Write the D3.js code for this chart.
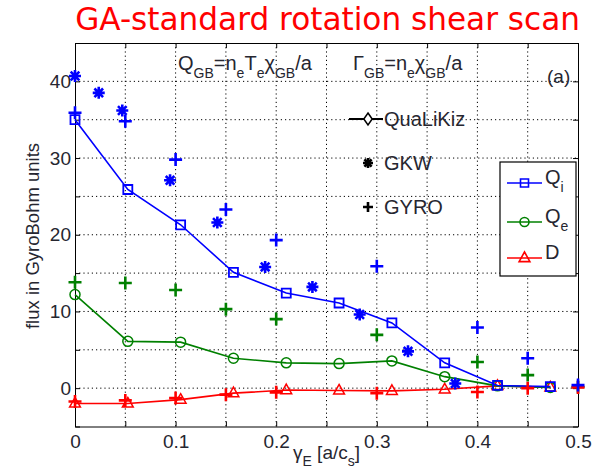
<!DOCTYPE html>
<html lang="en">
<head>
<meta charset="UTF-8">
<title>GA-standard rotation shear scan</title>
<script src="https://d3js.org/d3.v7.min.js"></script>
<style>
  body { margin: 0; background: #fff; }
  svg { display: block; font-family: 'Liberation Sans', Arial, sans-serif; }
  .grid line { stroke: #000; stroke-width: 1; stroke-dasharray: 1.2 3; }
  .axis path { stroke: #000; }
  .axis line { stroke: #000; }
  .axis text { fill: #262630; font-size: 19px; font-family: 'Liberation Sans', Arial, sans-serif; }
</style>
</head>
<body>
<svg id="chart" width="605" height="474"></svg>
<script>
  // QuaLiKiz (lines + markers)
  const qlkX  = [0, 0.0525, 0.105, 0.1575, 0.21, 0.2625, 0.315, 0.3675, 0.42, 0.4725];
  const qlkQi = [35.0, 25.9, 21.3, 15.1, 12.4, 11.1, 8.5, 3.3, 0.35, 0.2];
  const qlkQe = [12.2, 6.1, 6.0, 3.9, 3.3, 3.2, 3.55, 1.5, 0.3, 0.1];
  const qlkD  = [-2.0, -2.0, -1.5, -0.65, -0.25, -0.3, -0.35, -0.15, 0.3, 0.1];

  // GKW (asterisks, ion heat flux only)
  const gkwX  = [0, 0.0236, 0.047, 0.0945, 0.1415, 0.189, 0.236, 0.283, 0.331, 0.378];
  const gkwQi = [40.7, 38.5, 36.2, 27.1, 21.6, 15.8, 13.2, 9.6, 4.8, 0.6];

  // GYRO (plus signs)
  const gyroX  = [0, 0.05, 0.1, 0.15, 0.2, 0.3, 0.4, 0.45, 0.5];
  const gyroQi = [35.9, 34.8, 29.8, 23.3, 19.3, 15.9, 7.9, 3.9, 0.4];
  const gyroQe = [13.8, 13.7, 12.8, 10.3, 9.0, 6.95, 3.4, 1.7, 0.15];
  const gyroD  = [-1.75, -1.6, -1.3, -0.85, -0.55, -0.65, -0.5, 0, 0.1];

  const xTicks = [0, 0.05, 0.1, 0.15, 0.2, 0.25, 0.3, 0.35, 0.4, 0.45, 0.5];
  const yTicks = [-5, 0, 5, 10, 15, 20, 25, 30, 35, 40, 45];
  const xLabeled = [0, 0.1, 0.2, 0.3, 0.4, 0.5];
  const yLabeled = [0, 10, 20, 30, 40];

  const blue = "#0000ff", green = "#008000", red = "#ff0000";

  const svg = d3.select("#chart");
  const x = d3.scaleLinear().domain([0, 0.5]).range([75, 578]);
  const y = d3.scaleLinear().domain([-5, 45]).range([426.5, 43]);

  // title
  const title = svg.append("text")
    .attr("x", 580).attr("y", 30)
    .attr("text-anchor", "end")
    .attr("fill", red)
    .style("font-family", "'DejaVu Sans', Verdana, sans-serif")
    .style("font-size", "30px")
    .text("GA-standard rotation shear scan");
  let tw = title.node().getComputedTextLength();
  title.style("font-size", (30 * 505 / tw) + "px");

  // grid
  const grid = svg.append("g").attr("class", "grid");
  grid.selectAll(".gx").data(xTicks.slice(1, -1)).enter().append("line")
    .attr("x1", d => x(d)).attr("x2", d => x(d))
    .attr("y1", y(45)).attr("y2", y(-5));
  grid.selectAll(".gy").data(yTicks.slice(1, -1)).enter().append("line")
    .attr("y1", d => y(d)).attr("y2", d => y(d))
    .attr("x1", x(0)).attr("x2", x(0.5));

  // axes
  const fx = d => xLabeled.some(v => Math.abs(v - d) < 1e-9) ? d3.format("")(+d.toFixed(2)) : "";
  const fy = d => yLabeled.includes(d) ? d : "";
  svg.append("g").attr("class", "axis").attr("transform", `translate(0,${y(-5)})`)
    .call(d3.axisBottom(x).tickValues(xTicks).tickFormat(fx).tickSizeInner(-5).tickSizeOuter(0).tickPadding(8));
  svg.append("g").attr("class", "axis").attr("transform", `translate(0,${y(45)})`)
    .call(d3.axisTop(x).tickValues(xTicks).tickFormat("").tickSizeInner(-5).tickSizeOuter(0));
  svg.append("g").attr("class", "axis").attr("transform", `translate(${x(0)},0)`)
    .call(d3.axisLeft(y).tickValues(yTicks).tickFormat(fy).tickSizeInner(-5).tickSizeOuter(0).tickPadding(4));
  svg.append("g").attr("class", "axis").attr("transform", `translate(${x(0.5)},0)`)
    .call(d3.axisRight(y).tickValues(yTicks).tickFormat("").tickSizeInner(-5).tickSizeOuter(0));

  // axis labels
  svg.append("text")
    .attr("transform", "translate(39,236) rotate(-90)")
    .attr("text-anchor", "middle")
    .attr("fill", "#262630")
    .style("font-size", "18.5px")
    .text("flux in GyroBohm units");

  function richText(px, py, parts, size, subSize, anchor) {
    const t = svg.append("text").attr("x", px).attr("y", py)
      .attr("fill", "#262630").style("font-size", size + "px")
      .attr("text-anchor", anchor || "start");
    let low = false;
    parts.forEach(p => {
      const sp = t.append("tspan").text(p[0]);
      if (p[1] && !low) { sp.attr("dy", size * 0.38).style("font-size", subSize + "px"); low = true; }
      else if (!p[1] && low) { sp.attr("dy", -size * 0.38); low = false; }
      else if (p[1]) sp.style("font-size", subSize + "px");
    });
    return t;
  }

  richText(326.5, 459, [["\u03B3"], ["E", 1], [" [a/c"], ["s", 1], ["]"]], 19, 14, "middle");

  // annotations
  richText(178, 70, [["Q"], ["GB", 1], ["=n"], ["e", 1], ["T"], ["e", 1], ["\u03C7"], ["GB", 1], ["/a"]], 20, 14);
  richText(353, 70, [["\u0393"], ["GB", 1], ["=n"], ["e", 1], ["\u03C7"], ["GB", 1], ["/a"]], 20, 14);
  richText(547, 83, [["(a)"]], 19, 14);

  // marker shapes
  const shapes = {
    square: r => `M${-r},${-r}H${r}V${r}H${-r}Z`,
    circle: r => `M${r},0A${r},${r} 0 1 1 ${-r},0A${r},${r} 0 1 1 ${r},0Z`,
    triangle: r => `M0,${-r}L${r * 0.9},${r * 0.6}L${-r * 0.9},${r * 0.6}Z`,
    plus: r => `M${-r},0H${r}M0,${-r}V${r}`,
    star: r => { const k = r * 0.72; return `M${-r},0H${r}M0,${-r}V${r}M${-k},${-k}L${k},${k}M${-k},${k}L${k},${-k}`; },
    diamond: r => `M0,${-r}L${r * 0.7},0L0,${r}L${-r * 0.7},0Z`
  };

  const line = d3.line().x(d => x(d[0])).y(d => y(d[1]));
  const plot = svg.append("g");

  function series(xs, ys, color, shape, r, sw, withLine) {
    const pts = xs.map((v, i) => [v, ys[i]]);
    if (withLine) {
      plot.append("path").datum(pts).attr("d", line)
        .attr("fill", "none").attr("stroke", color).attr("stroke-width", 1.6);
    }
    plot.selectAll(null).data(pts).enter().append("path")
      .attr("transform", d => `translate(${x(d[0])},${y(d[1])})`)
      .attr("d", shapes[shape](r))
      .attr("fill", "none").attr("stroke", color).attr("stroke-width", sw);
  }

  series(qlkX, qlkD, red, "triangle", 6, 1.5, true);
  series(qlkX, qlkQe, green, "circle", 5, 1.5, true);
  series(qlkX, qlkQi, blue, "square", 4.5, 1.8, true);
  series(gkwX, gkwQi, blue, "star", 6, 2.6, false);
  series(gyroX, gyroQe, green, "plus", 6.5, 2.6, false);
  series(gyroX, gyroD, red, "plus", 6.5, 2.6, false);
  series(gyroX, gyroQi, blue, "plus", 6.5, 2.6, false);

  // code legend (no box)
  const codes = [
    { name: "QuaLiKiz", shape: "diamond", line: true, yy: 119 },
    { name: "GKW", shape: "star", line: false, yy: 163 },
    { name: "GYRO", shape: "plus", line: false, yy: 207 }
  ];
  codes.forEach(c => {
    if (c.line) svg.append("line").attr("x1", 349).attr("x2", 383)
      .attr("y1", c.yy).attr("y2", c.yy).attr("stroke", "#000").attr("stroke-width", 2);
    svg.append("path").attr("transform", `translate(368,${c.yy})`)
      .attr("d", shapes[c.shape](c.shape === "diamond" ? 6 : 5))
      .attr("fill", c.line ? "#fff" : "none").attr("stroke", "#000")
      .attr("stroke-width", c.line ? 1.5 : 2.6);
    svg.append("text").attr("x", 384).attr("y", c.yy + 7)
      .attr("fill", "#262630").style("font-size", "20px").text(c.name);
  });

  // quantity legend (boxed)
  svg.append("rect").attr("x", 500).attr("y", 162).attr("width", 76).attr("height", 114)
    .attr("fill", "#fff").attr("stroke", "#000").attr("stroke-width", 1.2);
  const qty = [
    { parts: [["Q"], ["i", 1]], color: blue, shape: "square", r: 4, yy: 183 },
    { parts: [["Q"], ["e", 1]], color: green, shape: "circle", r: 4.5, yy: 222 },
    { parts: [["D"]], color: red, shape: "triangle", r: 6, yy: 258 }
  ];
  qty.forEach(q => {
    svg.append("line").attr("x1", 507).attr("x2", 542).attr("y1", q.yy).attr("y2", q.yy)
      .attr("stroke", q.color).attr("stroke-width", 1.6);
    svg.append("path").attr("transform", `translate(524.5,${q.yy})`)
      .attr("d", shapes[q.shape](q.r)).attr("fill", "none")
      .attr("stroke", q.color).attr("stroke-width", 1.6);
    richText(545, q.yy + 1, q.parts, 20, 14);
  });
</script>
</body>
</html>
